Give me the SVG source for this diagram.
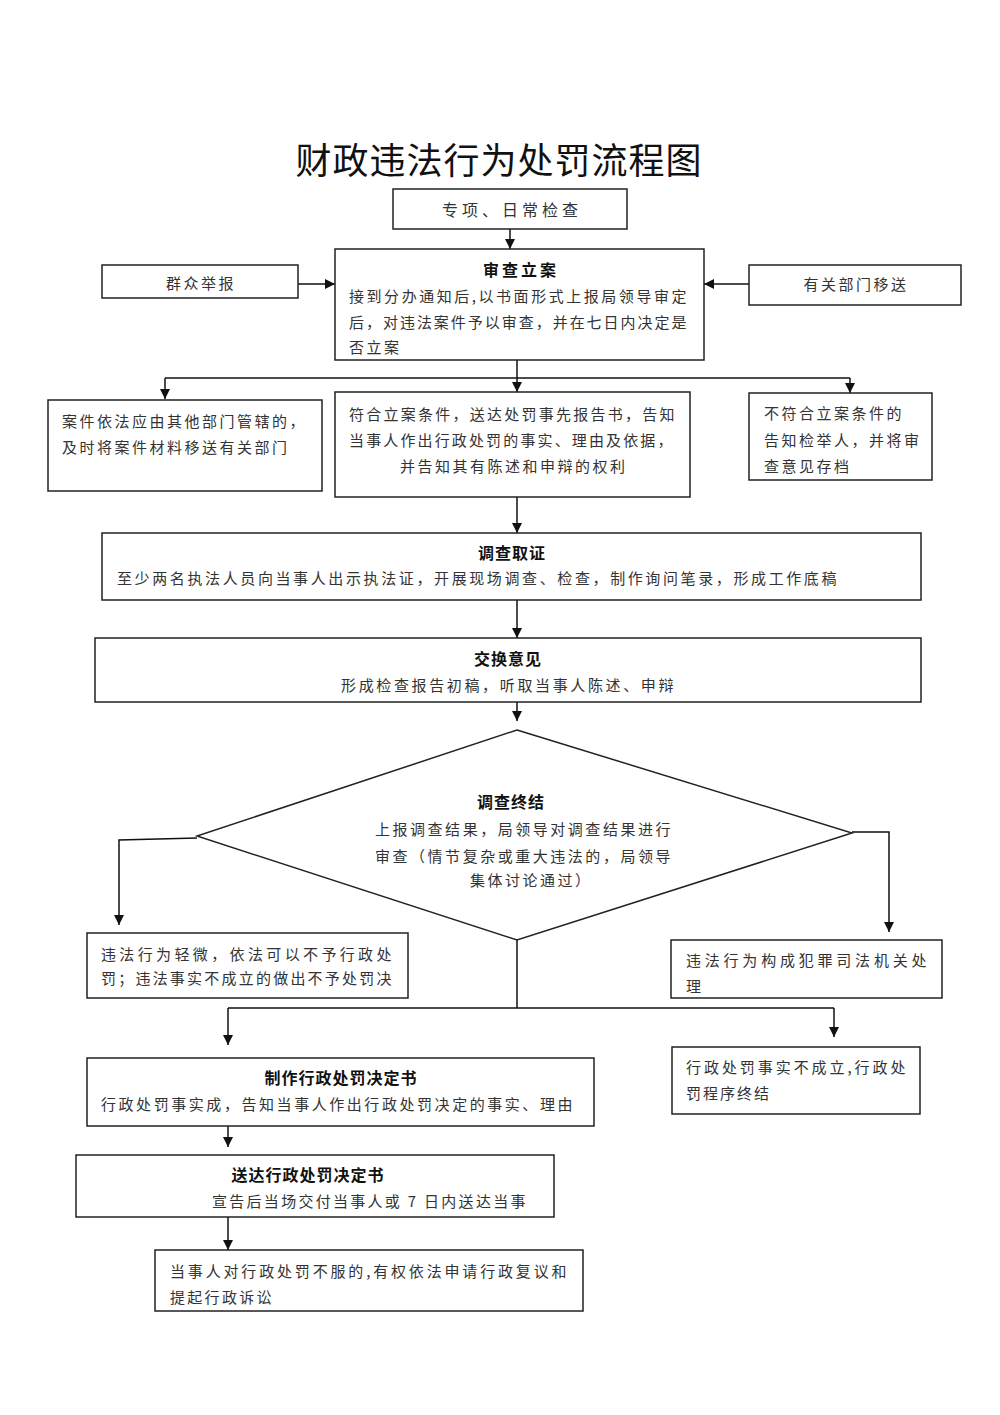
<svg xmlns="http://www.w3.org/2000/svg" width="1000" height="1415" viewBox="0 0 1000 1415">
<defs>
<marker id="ah" viewBox="0 0 10 10" refX="10" refY="5" markerWidth="10" markerHeight="10" markerUnits="userSpaceOnUse" orient="auto">
<path d="M0,0 L10,5 L0,10 z" fill="#111"/>
</marker>
<style>
.b{fill:#fff;stroke:#222;stroke-width:1.5}
.t{font-family:"Noto Sans CJK SC","Liberation Sans",sans-serif;font-size:15px;fill:#333;letter-spacing:2.5px}
.h{font-family:"Noto Sans CJK SC","Liberation Sans",sans-serif;font-size:16px;font-weight:bold;fill:#111;letter-spacing:1px}
.c{text-anchor:middle}
.ln{fill:none;stroke:#111;stroke-width:1.5}
</style>
</defs>
<rect width="1000" height="1415" fill="#fff"/>
<text x="499" y="174" text-anchor="middle" style="font-family:'Noto Sans CJK SC',sans-serif;font-size:36px;fill:#111;letter-spacing:1px">财政违法行为处罚流程图</text>

<g id="connectors">
<line class="ln" x1="510" y1="229" x2="510" y2="249" marker-end="url(#ah)"/>
<line class="ln" x1="298" y1="284" x2="335" y2="284" marker-end="url(#ah)"/>
<line class="ln" x1="749" y1="284" x2="704" y2="284" marker-end="url(#ah)"/>
<polyline class="ln" points="517,360 517,378"/>
<polyline class="ln" points="165,378 850,378"/>
<line class="ln" x1="165" y1="378" x2="165" y2="399" marker-end="url(#ah)"/>
<line class="ln" x1="517" y1="378" x2="517" y2="392" marker-end="url(#ah)"/>
<line class="ln" x1="850" y1="378" x2="850" y2="393" marker-end="url(#ah)"/>
<line class="ln" x1="517" y1="497" x2="517" y2="533" marker-end="url(#ah)"/>
<line class="ln" x1="517" y1="600" x2="517" y2="638" marker-end="url(#ah)"/>
<line class="ln" x1="517" y1="702" x2="517" y2="721" marker-end="url(#ah)"/>
<polyline class="ln" points="197,838 119,840 119,925" marker-end="url(#ah)"/>
<polyline class="ln" points="852,832 889,832 889,932" marker-end="url(#ah)"/>
<polyline class="ln" points="517,940 517,1008"/>
<polyline class="ln" points="228,1008 834,1008"/>
<line class="ln" x1="228" y1="1008" x2="228" y2="1045" marker-end="url(#ah)"/>
<line class="ln" x1="834" y1="1008" x2="834" y2="1037" marker-end="url(#ah)"/>
<line class="ln" x1="228" y1="1126" x2="228" y2="1147" marker-end="url(#ah)"/>
<line class="ln" x1="228" y1="1217" x2="228" y2="1250" marker-end="url(#ah)"/>
</g>

<g id="n-check">
<rect class="b" x="393" y="189" width="234" height="40"/>
<text class="t c" x="512" y="216" style="font-size:16px;letter-spacing:4px">专项、日常检查</text>
</g>
<g id="n-report">
<rect class="b" x="102" y="265" width="196" height="33"/>
<text class="t c" x="201" y="289">群众举报</text>
</g>
<g id="n-transfer">
<rect class="b" x="749" y="265" width="212" height="40"/>
<text class="t c" x="856" y="290">有关部门移送</text>
</g>
<g id="n-review">
<rect class="b" x="335" y="249" width="369" height="111"/>
<text class="h c" x="521" y="276" style="letter-spacing:3px">审查立案</text>
<text class="t" x="349" y="302" textLength="340" lengthAdjust="spacing">接到分办通知后,以书面形式上报局领导审定</text>
<text class="t" x="349" y="328" textLength="340" lengthAdjust="spacing">后，对违法案件予以审查，并在七日内决定是</text>
<text class="t" x="349" y="353">否立案</text>
</g>
<g id="n-other">
<rect class="b" x="48" y="400" width="274" height="91"/>
<text class="t" x="62" y="427">案件依法应由其他部门管辖的，</text>
<text class="t" x="62" y="453">及时将案件材料移送有关部门</text>
</g>
<g id="n-accept">
<rect class="b" x="335" y="392" width="355" height="105"/>
<text class="t" x="349" y="420" textLength="328" lengthAdjust="spacing">符合立案条件，送达处罚事先报告书，告知</text>
<text class="t" x="349" y="446" textLength="326" lengthAdjust="spacing">当事人作出行政处罚的事实、理由及依据，</text>
<text class="t" x="400" y="472">并告知其有陈述和申辩的权利</text>
</g>
<g id="n-reject">
<rect class="b" x="749" y="393" width="183" height="87"/>
<text class="t" x="764" y="419">不符合立案条件的</text>
<text class="t" x="764" y="446">告知检举人，并将审</text>
<text class="t" x="764" y="472">查意见存档</text>
</g>
<g id="n-investigate">
<rect class="b" x="102" y="533" width="819" height="67"/>
<text class="h c" x="512" y="559">调查取证</text>
<text class="t" x="117" y="584" textLength="722" lengthAdjust="spacing">至少两名执法人员向当事人出示执法证，开展现场调查、检查，制作询问笔录，形成工作底稿</text>
</g>
<g id="n-exchange">
<rect class="b" x="95" y="638" width="826" height="64"/>
<text class="h c" x="508" y="665">交换意见</text>
<text class="t" x="341" y="691" textLength="335" lengthAdjust="spacing">形成检查报告初稿，听取当事人陈述、申辩</text>
</g>
<g id="n-conclude">
<polygon class="b" points="517,730 852,833 517,940 197,836"/>
<text class="h c" x="511" y="808">调查终结</text>
<text class="t" x="375" y="835" textLength="298" lengthAdjust="spacing">上报调查结果，局领导对调查结果进行</text>
<text class="t" x="375" y="862" textLength="298" lengthAdjust="spacing">审查（情节复杂或重大违法的，局领导</text>
<text class="t" x="470" y="886">集体讨论通过）</text>
</g>
<g id="n-minor">
<rect class="b" x="87" y="933" width="321" height="65"/>
<text class="t" x="101" y="960" textLength="293" lengthAdjust="spacing">违法行为轻微，依法可以不予行政处</text>
<text class="t" x="101" y="984" textLength="293" lengthAdjust="spacing">罚；违法事实不成立的做出不予处罚决</text>
</g>
<g id="n-crime">
<rect class="b" x="671" y="940" width="271" height="58"/>
<text class="t" x="686" y="966" textLength="243" lengthAdjust="spacing">违法行为构成犯罪司法机关处</text>
<text class="t" x="686" y="992">理</text>
</g>
<g id="n-decision">
<rect class="b" x="87" y="1058" width="507" height="68"/>
<text class="h c" x="341" y="1084">制作行政处罚决定书</text>
<text class="t" x="101" y="1110" textLength="474" lengthAdjust="spacing">行政处罚事实成，告知当事人作出行政处罚决定的事实、理由</text>
</g>
<g id="n-notfound">
<rect class="b" x="672" y="1047" width="248" height="67"/>
<text class="t" x="686" y="1073" textLength="222" lengthAdjust="spacing">行政处罚事实不成立,行政处</text>
<text class="t" x="686" y="1099" style="letter-spacing:2px">罚程序终结</text>
</g>
<g id="n-deliver">
<rect class="b" x="76" y="1155" width="478" height="62"/>
<text class="h c" x="308" y="1181">送达行政处罚决定书</text>
<text class="t" x="212" y="1207" textLength="316" lengthAdjust="spacing">宣告后当场交付当事人或 7 日内送达当事</text>
</g>
<g id="n-appeal">
<rect class="b" x="155" y="1250" width="428" height="61"/>
<text class="t" x="170" y="1277" textLength="399" lengthAdjust="spacing">当事人对行政处罚不服的,有权依法申请行政复议和</text>
<text class="t" x="170" y="1303" style="letter-spacing:2.3px">提起行政诉讼</text>
</g>
</svg>
